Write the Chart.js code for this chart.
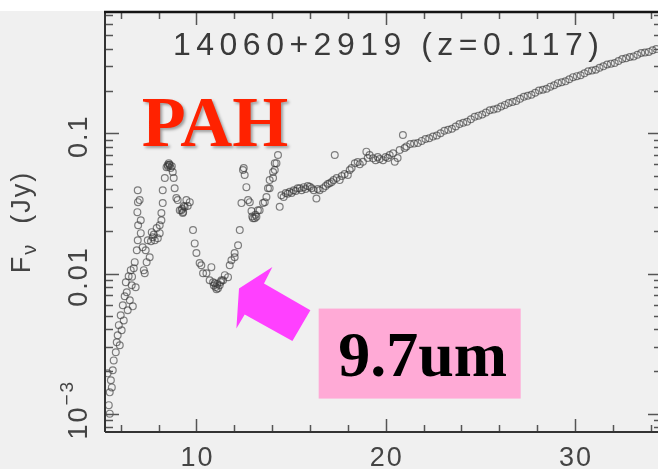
<!DOCTYPE html>
<html>
<head>
<meta charset="utf-8">
<title>14060+2919 IRS spectrum</title>
<script src="https://cdn.jsdelivr.net/npm/chart.js@4.4.1/dist/chart.umd.min.js"></script>
<style>
  html, body { margin: 0; padding: 0; background: #fff; overflow: hidden; }
  #wrap { width: 670px; height: 469px; }
</style>
</head>
<body>
<div id="wrap"><canvas id="spectrum" width="670" height="469"></canvas></div>
<script>
// Short-Low module (5-14.5 um), observed wavelength in um, flux density in Jy
const slWave = [
  5.31, 5.37, 5.42, 5.42, 5.48, 5.53, 5.58, 5.63, 5.74, 5.79, 5.84, 5.90, 5.95, 6.00, 6.05,
  6.11, 6.16, 6.21, 6.27, 6.32, 6.37, 6.42, 6.48, 6.53, 6.58, 6.60, 6.64, 6.69, 6.74, 6.79,
  6.85, 6.88, 6.90, 6.90, 6.91, 6.92, 7.00, 7.06, 7.06, 7.16, 7.22, 7.27, 7.32, 7.37, 7.43,
  7.53, 7.60, 7.64, 7.69, 7.75, 7.80, 7.90, 7.96, 8.06, 8.06, 8.15, 8.15, 8.22, 8.22, 8.33,
  8.42, 8.48, 8.50, 8.54, 8.57, 8.59, 8.64, 8.70, 8.75, 8.80, 8.85, 8.94, 9.01, 9.12, 9.21,
  9.25, 9.28, 9.30, 9.33, 9.38, 9.47, 9.54, 9.65, 9.82, 9.91, 10.00, 10.17, 10.26, 10.35, 10.53,
  10.70, 10.79, 10.88, 10.92, 10.97, 11.02, 11.06, 11.10, 11.14, 11.23, 11.28, 11.32, 11.41, 11.50, 11.67,
  11.76, 11.85, 12.02, 12.02, 12.20, 12.29, 12.38, 12.46, 12.50, 12.55, 12.64, 12.73, 12.82, 12.91, 12.95,
  12.99, 13.08, 13.12, 13.17, 13.25, 13.34, 13.52, 13.61, 13.70, 13.78, 13.87, 13.87, 14.05, 14.05, 14.14,
  14.14, 14.23, 14.31
];
const slFlux = [
  0.00194, 0.00115, 0.00100, 0.00142, 0.00173, 0.00154, 0.00204, 0.00240, 0.00274, 0.00323, 0.00362, 0.00428, 0.00308, 0.00504, 0.00394,
  0.00594, 0.00463, 0.00689, 0.00867, 0.00735, 0.00547, 0.00957, 0.00644, 0.01057, 0.00824, 0.00950, 0.00583, 0.01091, 0.01205, 0.00798,
  0.01467, 0.0274, 0.01728, 0.0393, 0.0323, 0.0221, 0.0334, 0.0194, 0.0240, 0.0154, 0.01057, 0.01005, 0.01467, 0.01205, 0.01728,
  0.01306, 0.0170, 0.01972, 0.01815, 0.0190, 0.01728, 0.0211, 0.01786, 0.0221, 0.0194, 0.0240, 0.0270, 0.0318, 0.0393, 0.0480,
  0.0574, 0.0594, 0.0580, 0.0613, 0.0600, 0.0594, 0.0565, 0.0583, 0.0530, 0.0480, 0.0406, 0.0345, 0.0334, 0.0283, 0.0283,
  0.0290, 0.0270, 0.0275, 0.0303, 0.0298, 0.0334, 0.0303, 0.0323, 0.0204, 0.0164, 0.0140, 0.01186, 0.01146, 0.01005, 0.01005,
  0.00895, 0.0111, 0.00867, 0.00820, 0.00853, 0.00800, 0.00773, 0.00840, 0.00785, 0.00824, 0.00870, 0.00895, 0.00895, 0.00973, 0.00942,
  0.01146, 0.01244, 0.0140, 0.01306, 0.0159, 0.0204, 0.0318, 0.0547, 0.0565, 0.0504, 0.0413, 0.0334, 0.0323, 0.0279, 0.0255,
  0.0248, 0.0248, 0.0262, 0.0254, 0.0283, 0.0283, 0.0318, 0.0323, 0.0351, 0.0406, 0.0406, 0.0464, 0.0480, 0.0530, 0.0547,
  0.0613, 0.0613, 0.0700
];

// Long-Low module (14.4-34.3 um)
const llWave = [
  14.40, 14.49, 14.61, 14.72, 14.82, 14.93, 15.03, 15.14, 15.25, 15.35, 15.46, 15.56, 15.67, 15.77, 15.88,
  15.99, 16.09, 16.20, 16.34, 16.41, 16.51, 16.69, 16.83, 16.94, 17.04, 17.15, 17.25, 17.31, 17.41, 17.57,
  17.68, 17.83, 18.00, 18.10, 18.20, 18.37, 18.52, 18.63, 18.80, 18.98, 19.05, 19.15, 19.33, 19.47, 19.58,
  19.68, 19.86, 20.00, 20.11, 20.21, 20.39, 20.48, 20.63, 20.74, 20.91, 21.00,
  21.1, 21.3, 21.5, 21.7, 21.9, 22.1, 22.3, 22.5, 22.7, 22.9, 23.1, 23.3, 23.5, 23.7, 23.9,
  24.1, 24.3, 24.5, 24.7, 24.9, 25.1, 25.3, 25.5, 25.7, 25.9, 26.1, 26.3, 26.5, 26.7, 26.9,
  27.1, 27.3, 27.5, 27.7, 27.9, 28.1, 28.3, 28.5, 28.7, 28.9, 29.1, 29.3, 29.5, 29.7, 29.9,
  30.1, 30.3, 30.5, 30.7, 30.9, 31.1, 31.3, 31.5, 31.7, 31.9, 32.1, 32.3, 32.5, 32.7, 32.9,
  33.1, 33.3, 33.5, 33.7, 33.9, 34.1, 34.3
];
const llFlux = [
  0.0299, 0.0362, 0.0351, 0.0375, 0.0370, 0.0383, 0.0375, 0.0393, 0.0388, 0.0406, 0.0405, 0.0393, 0.0413, 0.0400, 0.0421,
  0.0416, 0.0406, 0.0393, 0.0343, 0.0400, 0.0393, 0.0405, 0.0421, 0.0435, 0.0440, 0.0450, 0.0464, 0.0700, 0.0480, 0.0464,
  0.0496, 0.0512, 0.0504, 0.0547, 0.0565, 0.0611, 0.0624, 0.0603, 0.0627, 0.0740, 0.0667, 0.0700, 0.0663, 0.0644, 0.0678,
  0.0655, 0.0644, 0.0678, 0.0667, 0.0700, 0.0720, 0.0627, 0.0667, 0.0760, 0.0973, 0.0786,
  0.0807, 0.0838, 0.0845, 0.0853, 0.0883, 0.0912, 0.0923, 0.0948, 0.0966, 0.1002, 0.1042, 0.1059, 0.1079, 0.1119, 0.1164,
  0.1189, 0.1211, 0.1262, 0.1312, 0.1337, 0.1361, 0.1409, 0.1462, 0.1479, 0.1503, 0.1556, 0.1596, 0.1648, 0.1675, 0.1698,
  0.1762, 0.1824, 0.1854, 0.1884, 0.1950, 0.2018, 0.2046, 0.2080, 0.2153, 0.2203, 0.2280, 0.2317, 0.2350, 0.2432, 0.2518,
  0.2559, 0.2594, 0.2679, 0.2773, 0.2805, 0.2844, 0.2938, 0.3006, 0.3098, 0.3141, 0.3177, 0.3281, 0.3388, 0.3436, 0.3508,
  0.3540, 0.3639, 0.3741, 0.3776, 0.3811, 0.3917, 0.3990
];

// axis ranges and ticks
const xMin = 5.17, xMax = 34.6;
const yMin = 7.4e-4, yMax = 0.734;
const xTicks = [10, 20, 30];
const xMinorStep = 2;
const yTicks = [0.001, 0.01, 0.1];
const yTickLabels = ['10^−3', '0.01', '0.1'];

const titleText = '14060+2919 (z=0.117)';
const featureLabel = 'PAH';
const dipLabel = '9.7um';

function toPoints(xs, ys) {
  return xs.map((v, i) => ({ x: v, y: ys[i] }));
}

const frame = {
  id: 'frame',
  beforeDraw(chart) {
    const ctx = chart.ctx;
    ctx.save();
    ctx.fillStyle = '#f0f0f0';
    ctx.fillRect(0, chart.chartArea.top - 1, chart.width, chart.height);
    ctx.restore();
  },
  beforeDatasetsDraw(chart) {
    // the scanned spectrum is soft, so the markers get a light blur
    chart.ctx.save();
    chart.ctx.filter = 'blur(0.6px)';
  },
  afterDatasetsDraw(chart) {
    const { ctx, chartArea: a, scales: { x, y } } = chart;
    ctx.restore();
    ctx.save();

    // inward ticks on all four sides
    ctx.strokeStyle = '#555';
    ctx.lineWidth = 1.5;
    ctx.beginPath();
    for (let v = 6; v <= xMax; v += xMinorStep) {
      const px = Math.round(x.getPixelForValue(v)) + 0.5;
      const len = xTicks.includes(v) ? 13 : 7;
      ctx.moveTo(px, a.bottom); ctx.lineTo(px, a.bottom - len);
      ctx.moveTo(px, a.top); ctx.lineTo(px, a.top + len);
    }
    for (let e = -4; e <= 0; e++) {
      for (let m = 1; m <= 9; m++) {
        const v = m * Math.pow(10, e);
        if (v < yMin || v > yMax) continue;
        const py = Math.round(y.getPixelForValue(v)) + 0.5;
        const len = m === 1 ? 14 : 8;
        ctx.moveTo(a.left, py); ctx.lineTo(a.left + len, py);
        ctx.moveTo(a.right, py); ctx.lineTo(a.right - len, py);
      }
    }
    ctx.stroke();

    // axis lines
    ctx.lineWidth = 2;
    ctx.strokeStyle = '#333';
    ctx.beginPath();
    ctx.moveTo(a.left, a.top); ctx.lineTo(a.left, a.bottom);
    ctx.moveTo(a.left, a.bottom); ctx.lineTo(chart.width, a.bottom);
    ctx.moveTo(a.right, a.top); ctx.lineTo(a.right, a.bottom);
    ctx.stroke();
    ctx.lineWidth = 2.5;
    ctx.strokeStyle = '#151515';
    ctx.beginPath();
    ctx.moveTo(a.left - 1, a.top); ctx.lineTo(chart.width, a.top);
    ctx.stroke();

    // x tick labels
    ctx.fillStyle = '#444';
    ctx.font = '27px "Liberation Sans", Arial, sans-serif';
    ctx.letterSpacing = '2px';
    ctx.textAlign = 'center';
    ctx.textBaseline = 'alphabetic';
    xTicks.forEach(v => {
      ctx.fillText(String(v), x.getPixelForValue(v) + 1, a.bottom + 34);
    });

    // y tick labels, rotated to read upwards
    yTicks.forEach((v, i) => {
      const py = y.getPixelForValue(v);
      const [base, exp] = yTickLabels[i].split('^');
      ctx.save();
      ctx.translate(a.left - 18, py);
      ctx.rotate(-Math.PI / 2);
      ctx.textAlign = 'left';
      ctx.font = '27px "Liberation Sans", Arial, sans-serif';
      const wBase = ctx.measureText(base).width;
      let wExp = 0;
      if (exp) {
        ctx.font = '19px "Liberation Sans", Arial, sans-serif';
        wExp = ctx.measureText(exp).width;
      }
      const start = -(wBase + wExp) / 2 + (exp ? 4 : -3);
      ctx.font = '27px "Liberation Sans", Arial, sans-serif';
      ctx.fillText(base, start, 0);
      if (exp) {
        ctx.font = '19px "Liberation Sans", Arial, sans-serif';
        ctx.fillText(exp, start + wBase, -14);
      }
      ctx.restore();
    });

    // y axis title: F_nu (Jy)
    ctx.save();
    ctx.translate(30, (a.top + a.bottom) / 2);
    ctx.rotate(-Math.PI / 2);
    ctx.textAlign = 'left';
    const big = '27px "Liberation Sans", Arial, sans-serif';
    const small = '20px "Liberation Sans", Arial, sans-serif';
    ctx.font = big;
    const wF = ctx.measureText('F').width;
    const wRest = ctx.measureText('  (Jy)').width;
    ctx.font = small;
    const wNu = ctx.measureText('ν').width;
    let cx = -(wF + wNu + wRest) / 2;
    ctx.font = big;
    ctx.fillText('F', cx, 0);
    cx += wF;
    ctx.font = small;
    ctx.fillText('ν', cx, 6);
    cx += wNu;
    ctx.font = big;
    ctx.fillText('  (Jy)', cx, 0);
    ctx.restore();

    // object name and redshift inside the frame
    ctx.font = '32px "Liberation Sans", Arial, sans-serif';
    ctx.letterSpacing = '5.5px';
    ctx.fillStyle = '#3a3a3a';
    ctx.textAlign = 'center';
    ctx.fillText(titleText, x.getPixelForValue(20) + 3, a.top + 43);
    ctx.restore();
  }
};

const callouts = {
  id: 'callouts',
  afterDraw(chart) {
    const { ctx, scales: { x, y } } = chart;
    ctx.save();

    // PAH feature label
    ctx.font = 'bold 72px "Liberation Serif", "Times New Roman", serif';
    ctx.fillStyle = '#ff2200';
    ctx.textAlign = 'left';
    ctx.shadowColor = 'rgba(0,0,0,0.35)';
    ctx.shadowOffsetX = 2;
    ctx.shadowOffsetY = 2;
    ctx.shadowBlur = 3;
    ctx.fillText(featureLabel, x.getPixelForValue(7.11), y.getPixelForValue(0.081));
    ctx.shadowColor = 'transparent';

    // arrow pointing at the silicate trough
    const tx = x.getPixelForValue(12.25);
    const ty = y.getPixelForValue(0.00781);
    const arrow = [[0, 0], [33.4, -21.6], [25, -5], [71.4, 21.7], [53.4, 52.4], [5.7, 26], [-2.6, 40]];
    ctx.fillStyle = '#ff40ff';
    ctx.beginPath();
    arrow.forEach(([dx, dy], i) => {
      if (i === 0) ctx.moveTo(tx + dx, ty + dy);
      else ctx.lineTo(tx + dx, ty + dy);
    });
    ctx.closePath();
    ctx.fill();

    // boxed 9.7um label
    const bx = x.getPixelForValue(16.46);
    const by = y.getPixelForValue(0.00562);
    ctx.fillStyle = '#ffaad6';
    ctx.fillRect(bx, by, 202, 90);
    ctx.font = 'bold 64px "Liberation Serif", "Times New Roman", serif';
    ctx.fillStyle = '#000';
    ctx.textAlign = 'center';
    ctx.fillText(dipLabel, bx + 104, by + 67);
    ctx.restore();
  }
};

const pointStyle = {
  pointRadius: 3.4,
  pointBorderWidth: 1.2,
  pointBorderColor: 'rgba(55,55,55,0.62)',
  pointBackgroundColor: 'rgba(0,0,0,0)',
  showLine: false
};

new Chart(document.getElementById('spectrum'), {
  type: 'scatter',
  data: {
    datasets: [
      { label: 'SL', data: toPoints(slWave, slFlux), ...pointStyle },
      { label: 'LL', data: toPoints(llWave, llFlux), ...pointStyle }
    ]
  },
  options: {
    responsive: false,
    devicePixelRatio: 1,
    animation: false,
    layout: { autoPadding: false, padding: { left: 105, top: 12, right: 8, bottom: 37 } },
    plugins: {
      legend: { display: false },
      tooltip: { enabled: false }
    },
    scales: {
      x: { type: 'linear', min: xMin, max: xMax, display: false },
      y: { type: 'logarithmic', min: yMin, max: yMax, display: false }
    }
  },
  plugins: [frame, callouts]
});
</script>
</body>
</html>
